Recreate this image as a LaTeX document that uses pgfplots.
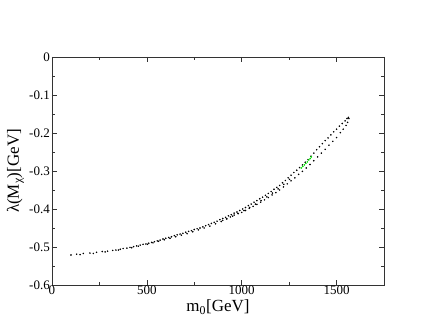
\documentclass[border=0pt]{standalone}
\usepackage{fontspec}
\setmainfont{Liberation Serif}
\usepackage{pgfplots}
\pgfplotsset{compat=1.18}

% upper branch of the scatter band
\pgfplotstableread{
x y
100 -0.521
130 -0.519
165 -0.517
200 -0.516
235 -0.514
265 -0.512
293 -0.511
320 -0.509
337 -0.508
360 -0.506
375 -0.504
395 -0.503
411 -0.501
430 -0.499
446 -0.497
465 -0.495
480 -0.493
495 -0.492
510 -0.490
525 -0.488
540 -0.486
555 -0.484
570 -0.482
585 -0.479
600 -0.477
615 -0.475
630 -0.473
645 -0.470
660 -0.468
675 -0.466
690 -0.464
705 -0.461
720 -0.459
735 -0.457
750 -0.454
765 -0.452
780 -0.450
795 -0.447
810 -0.444
825 -0.441
840 -0.438
855 -0.435
870 -0.432
885 -0.428
900 -0.425
915 -0.422
930 -0.418
945 -0.415
960 -0.411
975 -0.408
990 -0.404
1005 -0.400
1020 -0.396
1035 -0.391
1050 -0.387
1065 -0.382
1080 -0.378
1095 -0.373
1110 -0.369
1125 -0.364
1140 -0.359
1155 -0.354
1170 -0.348
1185 -0.343
1200 -0.338
1215 -0.331
1230 -0.325
1245 -0.318
1260 -0.311
1275 -0.304
1290 -0.298
1305 -0.291
1320 -0.284
1335 -0.277
1350 -0.270
1365 -0.261
1380 -0.253
1395 -0.244
1410 -0.236
1425 -0.228
1440 -0.220
1455 -0.213
1470 -0.205
1485 -0.197
1500 -0.190
1515 -0.182
1530 -0.175
1545 -0.168
1555 -0.162
1562 -0.159
}\upperbranch

% points filling the band between the two branches
\pgfplotstableread{
x y
148 -0.520
218 -0.517
280 -0.513
350 -0.508
420 -0.502
455 -0.498
503 -0.493
532 -0.489
562 -0.485
592 -0.481
622 -0.477
652 -0.473
682 -0.469
712 -0.465
742 -0.460
772 -0.455
802 -0.450
832 -0.445
862 -0.439
892 -0.433
922 -0.426
952 -0.419
982 -0.412
1012 -0.404
1042 -0.396
1072 -0.387
1102 -0.378
1132 -0.368
1162 -0.358
1192 -0.347
1222 -0.335
1252 -0.322
}\middlebranch

% lower branch
\pgfplotstableread{
x y
900 -0.430
920 -0.426
940 -0.421
960 -0.416
980 -0.412
1000 -0.409
1020 -0.404
1040 -0.398
1060 -0.393
1080 -0.388
1100 -0.382
1120 -0.376
1140 -0.370
1160 -0.363
1180 -0.357
1200 -0.350
1220 -0.342
1240 -0.334
1260 -0.326
1280 -0.318
1300 -0.309
1320 -0.301
1340 -0.292
1360 -0.283
1380 -0.273
1400 -0.263
1420 -0.253
1440 -0.243
1460 -0.232
1480 -0.222
1500 -0.212
1520 -0.199
1535 -0.190
1550 -0.180
1558 -0.172
1565 -0.162
}\lowerbranch

\begin{document}
\begin{tikzpicture}
\begin{axis}[
    scale only axis,
    width=332pt, height=228pt,
    xmin=0, xmax=1750,
    ymin=-0.6, ymax=0,
    xtick={0,500,1000,1500},
    minor xtick={250,750,1250,1750},
    ytick={-0.6,-0.5,-0.4,-0.3,-0.2,-0.1,0},
    minor ytick={-0.55,-0.45,-0.35,-0.25,-0.15,-0.05},
    tick align=inside,
    major tick length=5pt,
    minor tick length=3pt,
    tick style={black!80, line width=0.6pt},
    axis line style={black!80, line width=0.8pt},
    /pgf/number format/assume math mode=true,
    /pgf/number format/set thousands separator={},
    yticklabel style={/pgf/number format/fixed, /pgf/number format/precision=1},
    ticklabel style={font=\fontsize{13}{14}\selectfont},
    xticklabel style={inner sep=1pt},
    yticklabel style={inner sep=2pt},
    label style={font=\fontsize{17}{18}\selectfont},
    xlabel={m\textsubscript{0}[GeV]},
    ylabel={λ(M\textsubscript{χ})[GeV]},
    xlabel style={inner sep=1pt, yshift=-3pt},
    ylabel style={inner sep=1pt, yshift=2pt},
  ]
  \addplot[only marks, mark=*, mark size=0.55pt, black] table {\upperbranch};
  \addplot[only marks, mark=*, mark size=0.55pt, black] table {\middlebranch};
  \addplot[only marks, mark=*, mark size=0.55pt, black] table {\lowerbranch};
  \addplot[only marks, mark=*, mark size=0.6pt, green!90!black] coordinates {
    (1314,-0.292) (1322,-0.288) (1330,-0.284) (1338,-0.280)
    (1346,-0.276) (1354,-0.271) (1361,-0.267) (1367,-0.263)
  };
\end{axis}
\pgfresetboundingbox
\path (current axis.south west) +(-52pt,-50pt);
\path (current axis.north east) +(50pt,57pt);
\end{tikzpicture}
\end{document}
